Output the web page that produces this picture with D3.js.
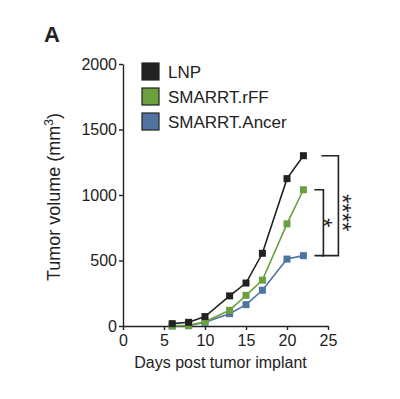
<!DOCTYPE html>
<html>
<head>
<meta charset="utf-8">
<script src="https://cdn.jsdelivr.net/npm/d3@7"></script>
<style>
  body { margin: 0; background: #fff; }
  text { font-family: "Liberation Sans", Arial, sans-serif; fill: #222; }
  .axis path, .axis line { stroke: #222; stroke-width: 1.4px; }
</style>
</head>
<body>
<svg id="chart"></svg>
<script>
const days = [6, 8, 10, 13, 15, 17, 20, 22];
const lnp = [18, 28, 72, 230, 328, 555, 1125, 1300];
const rff = [2, 5, 33, 120, 234, 350, 780, 1040];
const ancer = [0, 2, 28, 94, 163, 273, 511, 537];
const seriesNames = ["LNP", "SMARRT.rFF", "SMARRT.Ancer"];
const seriesColors = ["#222222", "#6aa03e", "#4f74a0"];
const xTicks = [0, 5, 10, 15, 20, 25];
const yTicks = [0, 500, 1000, 1500, 2000];

const width = 400, height = 399;
const margin = { top: 64, right: 72, bottom: 73, left: 123 };
const w = width - margin.left - margin.right;
const h = height - margin.top - margin.bottom;

const svg = d3.select('#chart')
    .attr('width', width)
    .attr('height', height);

svg.append('text')
  .attr('x', 44).attr('y', 42)
  .style('font-size', '22px').style('font-weight', 'bold')
  .text('A');

const chart = svg.append('g')
    .attr('transform', `translate(${margin.left}, ${margin.top})`);

const x = d3.scaleLinear().domain([0, 25]).range([0, w]);
const y = d3.scaleLinear().domain([0, 2000]).range([h, 0]);

chart.append('g')
  .attr('class', 'x axis')
  .attr('transform', `translate(0, ${h})`)
  .call(d3.axisBottom(x).tickValues(xTicks).tickSize(4).tickSizeOuter(0).tickPadding(5).tickFormat(d3.format('d')));

chart.append('g')
  .attr('class', 'y axis')
  .call(d3.axisLeft(y).tickValues(yTicks).tickSize(4).tickSizeOuter(0).tickPadding(2).tickFormat(d3.format('d')));

chart.selectAll('.axis text')
  .style('font-size', '16px')
  .style('font-family', '"Liberation Sans", Arial, sans-serif')
  .style('fill', '#222');

chart.append('text')
  .attr('x', w / 2 - 5).attr('y', h + 41.5)
  .style('text-anchor', 'middle').style('font-size', '16px')
  .text('Days post tumor implant');

const yl = chart.append('text')
  .attr('transform', 'rotate(-90)')
  .attr('x', -133).attr('y', -63.5)
  .style('text-anchor', 'middle').style('font-size', '18px');
yl.append('tspan').text('Tumor volume (mm');
yl.append('tspan').attr('dy', -7).style('font-size', '12px').text('3');
yl.append('tspan').attr('dy', 7).text(')');

const series = [lnp, rff, ancer].map((vals, i) => ({
  name: seriesNames[i], color: seriesColors[i],
  values: days.map((d, j) => ({ day: d, v: vals[j] }))
}));

const line = d3.line().x(d => x(d.day)).y(d => y(d.v));

// draw bottom series first so black sits on top
series.slice().reverse().forEach(s => {
  chart.append('path')
    .datum(s.values)
    .attr('fill', 'none')
    .attr('stroke', s.color)
    .attr('stroke-width', 1.6)
    .attr('d', line);
  chart.selectAll(null)
    .data(s.values)
    .enter().append('rect')
    .attr('x', d => x(d.day) - 3.5)
    .attr('y', d => y(d.v) - 3.5)
    .attr('width', 7).attr('height', 7)
    .attr('fill', s.color);
});

// legend
const legend = svg.append('g').attr('transform', 'translate(142, 63)');
series.forEach((s, i) => {
  const g = legend.append('g').attr('transform', `translate(0, ${i * 25})`);
  g.append('rect')
    .attr('width', 17).attr('height', 17)
    .attr('fill', s.color)
    .attr('stroke', '#222').attr('stroke-width', 1.2);
  g.append('text')
    .attr('x', 26).attr('y', 15.3)
    .style('font-size', '17px')
    .text(s.name);
});

// significance brackets
function bracket(x0, x1, yTop, yBot) {
  chart.append('path')
    .attr('fill', 'none').attr('stroke', '#222').attr('stroke-width', 1.6)
    .attr('d', `M${x0},${yTop}H${x1}V${yBot}H${x0}`);
}
const xe = x(22);
bracket(xe + 18, xe + 35, y(1300), y(537));
bracket(xe + 11, xe + 20, y(1040), y(537));

function stars(cx, cy, label) {
  chart.append('text')
    .attr('transform', `translate(${cx}, ${cy}) rotate(90)`)
    .style('text-anchor', 'middle')
    .style('font-size', '24px')
    .text(label);
}
stars(xe + 12, y((1040 + 537) / 2), '*');
stars(xe + 31, y((1300 + 537) / 2) + 7, '****');
</script>
</body>
</html>
